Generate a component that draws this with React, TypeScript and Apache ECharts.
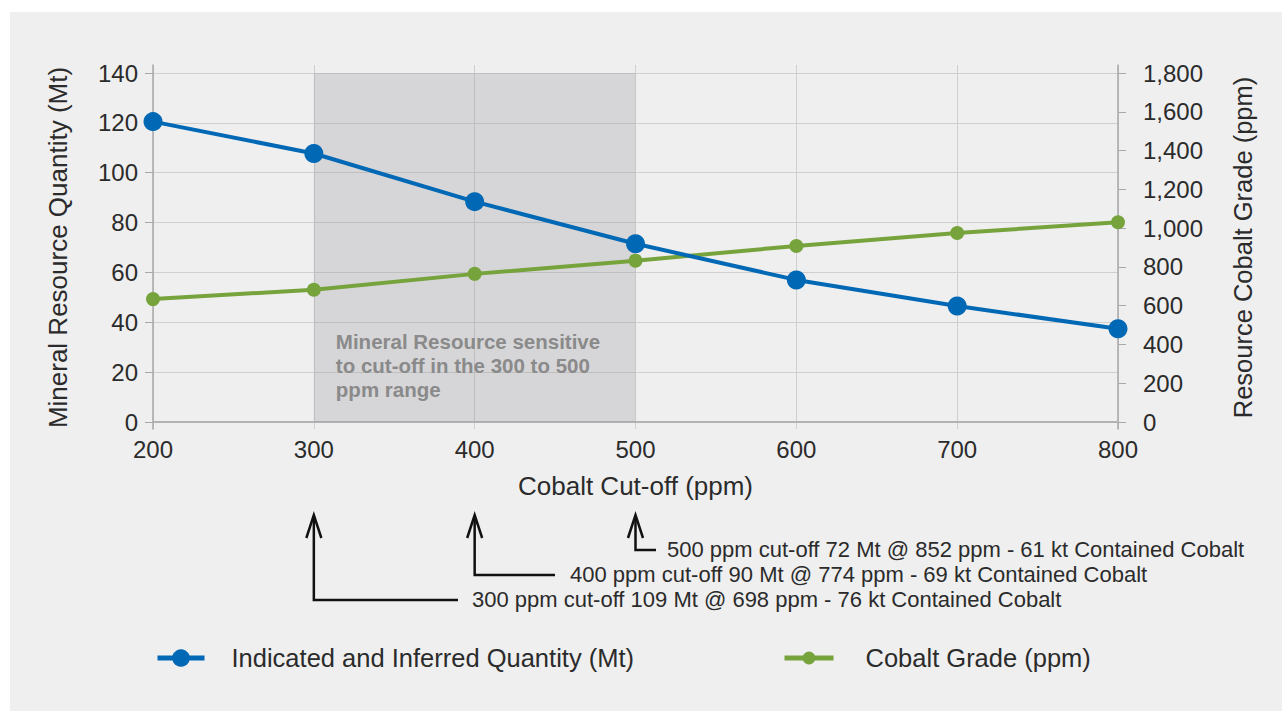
import React, { useEffect, useRef } from "react";
import * as echarts from "echarts";

const cutoffPpm = [200, 300, 400, 500, 600, 700, 800];
const quantityMt = [120.5, 107.7, 88.4, 71.5, 57.0, 46.5, 37.4];
const gradePpm = [634, 682, 764, 832, 908, 975, 1030];

const seriesNames = ["Indicated and Inferred Quantity (Mt)", "Cobalt Grade (ppm)"];
const sensitiveRange = [300, 500];
const sensitiveNote = "Mineral Resource sensitive\nto cut-off in the 300 to 500\nppm range";
const cutoffNotes = [
  { cutoff: 300, text: "300 ppm cut-off 109 Mt @ 698 ppm - 76 kt Contained Cobalt" },
  { cutoff: 400, text: "400 ppm cut-off 90 Mt @ 774 ppm - 69 kt Contained Cobalt" },
  { cutoff: 500, text: "500 ppm cut-off 72 Mt @ 852 ppm - 61 kt Contained Cobalt" },
];

const FONT = "'Liberation Sans', Arial, Helvetica, sans-serif";
const BLUE = "#0068b4";
const GREEN = "#77a33d";
const TXT = "#2b2b2b";

export default function App() {
  const ref = useRef<HTMLDivElement>(null);
  useEffect(() => {
    if (!ref.current) return;
    const chart = echarts.init(ref.current, undefined, { renderer: "svg" });
    const option: any = {
      animation: false,
      backgroundColor: "#ffffff",
      textStyle: { fontFamily: FONT },
      grid: [
        { left: 153, right: 164, top: 73, bottom: 289 },
        { left: 153, right: 164, top: 65, bottom: 282 },
      ],
      legend: [
        {
          data: [seriesNames[0]],
          left: 155,
          top: 645,
          padding: 0,
          itemWidth: 47,
          itemHeight: 22,
          lineStyle: { width: 5 },
          textStyle: { fontSize: 25.5, color: TXT, fontFamily: FONT, padding: [0, 0, 0, 22] },
          selectedMode: false,
        },
        {
          data: [seriesNames[1]],
          left: 782,
          top: 645,
          padding: 0,
          itemWidth: 49,
          itemHeight: 16,
          lineStyle: { width: 5 },
          textStyle: { fontSize: 25.5, color: TXT, fontFamily: FONT, padding: [0, 0, 0, 27] },
          selectedMode: false,
        },
      ],
      xAxis: [
        {
          type: "value",
          gridIndex: 0,
          min: 200,
          max: 800,
          interval: 100,
          name: "Cobalt Cut-off (ppm)",
          nameLocation: "middle",
          nameGap: 51,
          nameTextStyle: { fontSize: 26, color: TXT, fontFamily: FONT },
          axisLine: { show: true, lineStyle: { color: "#b3b3b3", width: 2 } },
          axisTick: { show: false },
          splitLine: { show: false },
          axisLabel: { fontSize: 24, color: TXT, margin: 15, fontFamily: FONT },
        },
        {
          type: "value",
          gridIndex: 1,
          min: 200,
          max: 800,
          interval: 100,
          axisLine: { show: false },
          axisTick: { show: false },
          axisLabel: { show: false },
          splitLine: { show: true, lineStyle: { color: "#cfcfcf", width: 1 } },
        },
      ],
      yAxis: [
        {
          type: "value",
          gridIndex: 0,
          position: "left",
          min: 0,
          max: 140,
          interval: 20,
          name: "Mineral Resource Quantity (Mt)",
          nameLocation: "middle",
          nameGap: 82,
          nameTextStyle: { fontSize: 26, color: TXT, fontFamily: FONT },
          axisLine: { show: false },
          axisTick: { show: true, inside: false, length: 8, lineStyle: { color: "#a8a8a8" } },
          splitLine: { show: true, lineStyle: { color: "#cfcfcf", width: 1 } },
          axisLabel: { fontSize: 24, color: TXT, margin: 15, fontFamily: FONT },
        },
        {
          type: "value",
          gridIndex: 0,
          position: "right",
          min: 0,
          max: 1800,
          interval: 200,
          name: "Resource Cobalt Grade (ppm)",
          nameLocation: "middle",
          nameGap: 112,
          nameRotate: 90,
          nameTextStyle: { fontSize: 25.5, color: TXT, fontFamily: FONT },
          axisLine: { show: false },
          axisTick: { show: true, inside: false, length: 8, lineStyle: { color: "#a8a8a8" } },
          splitLine: { show: false },
          axisLabel: {
            fontSize: 24,
            color: TXT,
            margin: 25,
            fontFamily: FONT,
            formatter: (v: number) => v.toLocaleString("en-US"),
          },
        },
        {
          type: "value",
          gridIndex: 1,
          position: "left",
          axisLine: { show: true, lineStyle: { color: "#a8a8a8", width: 1.5 } },
          axisTick: { show: false },
          axisLabel: { show: false },
          splitLine: { show: false },
        },
        {
          type: "value",
          gridIndex: 1,
          position: "right",
          axisLine: { show: true, lineStyle: { color: "#a8a8a8", width: 1.5 } },
          axisTick: { show: false },
          axisLabel: { show: false },
          splitLine: { show: false },
        },
      ],
      series: [
        {
          name: seriesNames[1],
          type: "line",
          xAxisIndex: 0,
          yAxisIndex: 1,
          data: cutoffPpm.map((x, i) => [x, gradePpm[i]]),
          symbol: "circle",
          symbolSize: 14,
          itemStyle: { color: GREEN },
          lineStyle: { color: GREEN, width: 4 },
          z: 3,
        },
        {
          name: seriesNames[0],
          type: "line",
          xAxisIndex: 0,
          yAxisIndex: 0,
          data: cutoffPpm.map((x, i) => [x, quantityMt[i]]),
          symbol: "circle",
          symbolSize: 19,
          itemStyle: { color: BLUE },
          lineStyle: { color: BLUE, width: 4 },
          z: 4,
          markArea: {
            silent: true,
            itemStyle: { color: "rgba(150,152,158,0.28)" },
            data: [[{ xAxis: sensitiveRange[0] }, { xAxis: sensitiveRange[1] }]],
          },
        },
      ],
    };
    chart.setOption(option);

    const px = (v: number) => chart.convertToPixel({ xAxisIndex: 0 }, v) as number;
    const tipY = 515;
    const rowY = [600, 575, 550];
    const textGap = [14, 15, 11];
    const textStartX = [472, 570, 667];
    const elements: any[] = [
      {
        type: "rect",
        shape: { x: 10, y: 12, width: 1272, height: 699 },
        style: { fill: "#efefef" },
        z: -10,
        silent: true,
      },
      {
        type: "text",
        left: px(sensitiveRange[0]) + 22,
        top: 329,
        style: {
          text: sensitiveNote,
          fill: "#8a8a8a",
          font: `bold 20.5px ${FONT}`,
          lineHeight: 24,
        },
        z: 100,
      },
    ];
    cutoffNotes.forEach((n, i) => {
      const x = px(n.cutoff);
      const y = rowY[i];
      const endX = textStartX[i] - textGap[i];
      elements.push({
        type: "polyline",
        shape: { points: [[x, tipY + 1], [x, y], [endX, y]] },
        style: { stroke: "#111", lineWidth: 2.5, fill: null },
        z: 100,
      });
      elements.push({
        type: "polyline",
        shape: { points: [[x - 7.5, tipY + 23], [x, tipY], [x + 7.5, tipY + 23]] },
        style: { stroke: "#111", lineWidth: 2.5, fill: null },
        z: 100,
      });
      elements.push({
        type: "text",
        left: textStartX[i],
        top: y - 12,
        style: { text: n.text, fill: TXT, font: `22px ${FONT}` },
        z: 100,
      });
    });
    chart.setOption({ graphic: { elements } });

    return () => chart.dispose();
  }, []);
  return (
    <div
      ref={ref}
      style={{ position: "absolute", left: 0, top: 0, width: 1282, height: 711 }}
    />
  );
}
